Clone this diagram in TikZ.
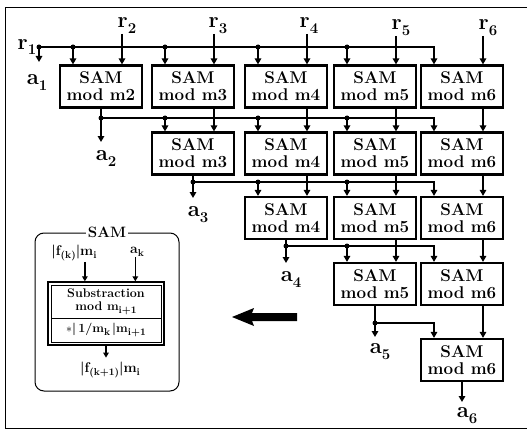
\documentclass[tikz,border=0pt]{standalone}
\usetikzlibrary{arrows.meta,positioning,fit,calc}
\newcommand\lowidx[1]{\raisebox{-0.55ex}{\fontsize{15}{15}\selectfont#1}}
\newcommand\smallidx[1]{\raisebox{-0.5ex}{\fontsize{10}{10}\selectfont#1}}
\tikzset{
  sam node/.style={draw,line width=2.2pt,align=center,minimum width=82pt,minimum height=42pt,
    inner sep=1pt,font=\fontsize{17}{17}\selectfont\bfseries},
  sam arrow/.style={-{Triangle[length=6pt,width=6.5pt]},line width=1.6pt},
  tap/.style={circle,fill,inner sep=0pt,minimum size=5pt},
  sig label/.style={inner sep=0.5pt,font=\fontsize{22}{22}\selectfont\bfseries},
  small label/.style={inner sep=0.5pt,font=\fontsize{14}{14}\selectfont\bfseries},
  small arrow/.style={-{Triangle[length=5pt,width=5.5pt]},line width=1.3pt}
}
\begin{document}
\begin{tikzpicture}[x=1pt,y=-1pt]
  \useasboundingbox (0,0) rectangle (527,433);
  \draw[line width=0.8pt] (527,7) -- (5,7) -- (5,428) -- (527,428);

  % SAM array, row by row
  \node[sam node] (sam12) at (101,86.5) {SAM\\mod m2};
  \node[sam node] (sam13) at (193,86.5) {SAM\\mod m3};
  \node[sam node] (sam14) at (286,86.5) {SAM\\mod m4};
  \node[sam node] (sam15) at (375,86.5) {SAM\\mod m5};
  \node[sam node] (sam16) at (462,86.5) {SAM\\mod m6};
  \node[sam node] (sam23) at (193,153.5) {SAM\\mod m3};
  \node[sam node] (sam24) at (286,153.5) {SAM\\mod m4};
  \node[sam node] (sam25) at (375,153.5) {SAM\\mod m5};
  \node[sam node] (sam26) at (462,153.5) {SAM\\mod m6};
  \node[sam node] (sam34) at (286,218) {SAM\\mod m4};
  \node[sam node] (sam35) at (375,218) {SAM\\mod m5};
  \node[sam node] (sam36) at (462,218) {SAM\\mod m6};
  \node[sam node] (sam45) at (375,284) {SAM\\mod m5};
  \node[sam node] (sam46) at (462,284) {SAM\\mod m6};
  \node[sam node] (sam56) at (462,360) {SAM\\mod m6};

  % input points on top of each box
  \foreach \n in {sam12,sam13,sam14,sam15,sam16,sam23,sam24,sam25,sam26,sam34,sam35,sam36,sam45,sam46,sam56}
    \path (\n.north) ++(-28,0) coordinate (\n-l) ++(49,0) coordinate (\n-r);

  % residues r1 .. r6
  \node[sig label,anchor=east] (r1) at (37,47) {r\lowidx{1}};
  \node[sig label,anchor=south west] (r2) at (117,34) {r\lowidx{2}};
  \node[sig label,anchor=south west] (r3) at (208,34) {r\lowidx{3}};
  \node[sig label,anchor=south west] (r4) at (299,34) {r\lowidx{4}};
  \node[sig label,anchor=south west] (r5) at (391,36) {r\lowidx{5}};
  \node[sig label,anchor=south west] (r6) at (478,36) {r\lowidx{6}};
  \draw[sam arrow] (sam12-r |- r2.south) -- (sam12-r);
  \draw[sam arrow] (sam13-r |- r3.south) -- (sam13-r);
  \draw[sam arrow] (sam14-r |- r4.south) -- (sam14-r);
  \draw[sam arrow] (sam15-r |- r5.south) -- (sam15-r);
  \draw[sam arrow] (sam16-r |- r6.south) -- (sam16-r);

  % row 1 bus
  \node[tap] (d1) at (39,47) {};
  \coordinate (e1) at (39,62);
  \draw[sam arrow] (r1.east) -| (sam16-l);
  \draw[sam arrow] (d1.center) -- (e1);
  \node[tap] (d12) at (d1.center -| sam12-l) {};
  \node[tap] (d13) at (d1.center -| sam13-l) {};
  \node[tap] (d14) at (d1.center -| sam14-l) {};
  \node[tap] (d15) at (d1.center -| sam15-l) {};
  \draw[sam arrow] (d12.center) -- (sam12-l);
  \draw[sam arrow] (d13.center) -- (sam13-l);
  \draw[sam arrow] (d14.center) -- (sam14-l);
  \draw[sam arrow] (d15.center) -- (sam15-l);
  \node[sig label,below=12pt of e1,xshift=-2pt] (a1) {a\lowidx{1}};

  % row 2 bus
  \node[tap] (d2) at (sam12.south |- 0,118) {};
  \coordinate (e2) at (sam12.south |- 0,142);
  \draw[sam arrow] (sam12.south) -- (e2);
  \draw[sam arrow] (d2.center) -| (sam26-l);
  \node[tap] (d23) at (d2.center -| sam23-l) {};
  \node[tap] (d24) at (d2.center -| sam24-l) {};
  \node[tap] (d25) at (d2.center -| sam25-l) {};
  \draw[sam arrow] (d23.center) -- (sam23-l);
  \draw[sam arrow] (d24.center) -- (sam24-l);
  \draw[sam arrow] (d25.center) -- (sam25-l);
  \draw[sam arrow] (sam13.south -| sam13-r) -- (sam23-r);
  \draw[sam arrow] (sam14.south -| sam14-r) -- (sam24-r);
  \draw[sam arrow] (sam15.south -| sam15-r) -- (sam25-r);
  \draw[sam arrow] (sam16.south -| sam16-r) -- (sam26-r);
  \node[sig label,below=8pt of e2,xshift=5pt] (a2) {a\lowidx{2}};

  % row 3 bus
  \node[tap] (d3) at (sam23.south |- 0,182) {};
  \coordinate (e3) at (sam23.south |- 0,198);
  \draw[sam arrow] (sam23.south) -- (e3);
  \draw[sam arrow] (d3.center) -| (sam36-l);
  \node[tap] (d34) at (d3.center -| sam34-l) {};
  \node[tap] (d35) at (d3.center -| sam35-l) {};
  \draw[sam arrow] (d34.center) -- (sam34-l);
  \draw[sam arrow] (d35.center) -- (sam35-l);
  \draw[sam arrow] (sam24.south -| sam24-r) -- (sam34-r);
  \draw[sam arrow] (sam25.south -| sam25-r) -- (sam35-r);
  \draw[sam arrow] (sam26.south -| sam26-r) -- (sam36-r);
  \node[sig label,below=8pt of e3,xshift=5pt] (a3) {a\lowidx{3}};

  % row 4 bus
  \node[tap] (d4) at (sam34.south |- 0,246) {};
  \coordinate (e4) at (sam34.south |- 0,263);
  \draw[sam arrow] (sam34.south) -- (e4);
  \draw[sam arrow] (d4.center) -| (sam46-l);
  \node[tap] (d45) at (d4.center -| sam45-l) {};
  \draw[sam arrow] (d45.center) -- (sam45-l);
  \draw[sam arrow] (sam35.south -| sam35-r) -- (sam45-r);
  \draw[sam arrow] (sam36.south -| sam36-r) -- (sam46-r);
  \node[sig label,below=8pt of e4,xshift=5pt] (a4) {a\lowidx{4}};

  % row 5 bus
  \node[tap] (d5) at (sam45.south |- 0,323) {};
  \coordinate (e5) at (sam45.south |- 0,337);
  \draw[sam arrow] (sam45.south) -- (e5);
  \draw[sam arrow] (d5.center) -| (sam56-l);
  \draw[sam arrow] (sam46.south -| sam46-r) -- (sam56-r);
  \node[sig label,below=6pt of e5,xshift=5pt] (a5) {a\lowidx{5}};

  % last output
  \coordinate (e6) at (sam56.south |- 0,402);
  \draw[sam arrow] (sam56.south) -- (e6);
  \node[sig label,below=5pt of e6,xshift=5pt] (a6) {a\lowidx{6}};

  % inside one SAM cell
  \node[draw,line width=1pt,rounded corners=9pt,minimum width=144pt,minimum height=158pt] (legend) at (107,312) {};
  \node[fill=white,inner sep=2pt,font=\fontsize{15}{15}\selectfont\bfseries] (legendtitle) at (legend.north) {SAM};
  \node[small label] (fk) at (74,253) {|f\smallidx{(k)}|m\smallidx{i}};
  \node[small label] (ak) at (137,252) {a\smallidx{k}};
  \node[draw,line width=0.8pt,minimum width=110pt,minimum height=33pt,align=center,inner sep=0pt,
    font=\fontsize{12.5}{13}\selectfont\bfseries] (subtop) at (106,301.5) {Substraction\\mod m\smallidx{i+1}};
  \node[draw,line width=0.8pt,minimum width=110pt,minimum height=24pt,inner sep=0pt,
    font=\fontsize{12.5}{13}\selectfont\bfseries] (subbot) at (106,330) {$\ast$|\,1/m\smallidx{k}\,|m\smallidx{i+1}};
  \node[draw,line width=1.5pt,fit=(subtop)(subbot),inner sep=2.5pt] (subframe) {};
  \coordinate (pin1) at ($(subframe.north west)!0.32!(subframe.north east)$);
  \coordinate (pin2) at ($(subframe.north west)!0.75!(subframe.north east)$);
  \draw[small arrow] (pin1 |- fk.south) -- (pin1);
  \draw[small arrow] (pin2 |- ak.south) -- (pin2);
  \coordinate (eout) at ($(subframe.south)+(0,12)$);
  \draw[small arrow] (subframe.south) -- (eout);
  \node[small label,below=4pt of eout,xshift=4pt] (fout) {|f\smallidx{(k+1)}|m\smallidx{i}};

  % pointer to the cell
  \fill (232,317) -- (254,308) -- (252,313) -- (297,313) -- (297,321) -- (252,321) -- (254,326) -- cycle;
\end{tikzpicture}
\end{document}
